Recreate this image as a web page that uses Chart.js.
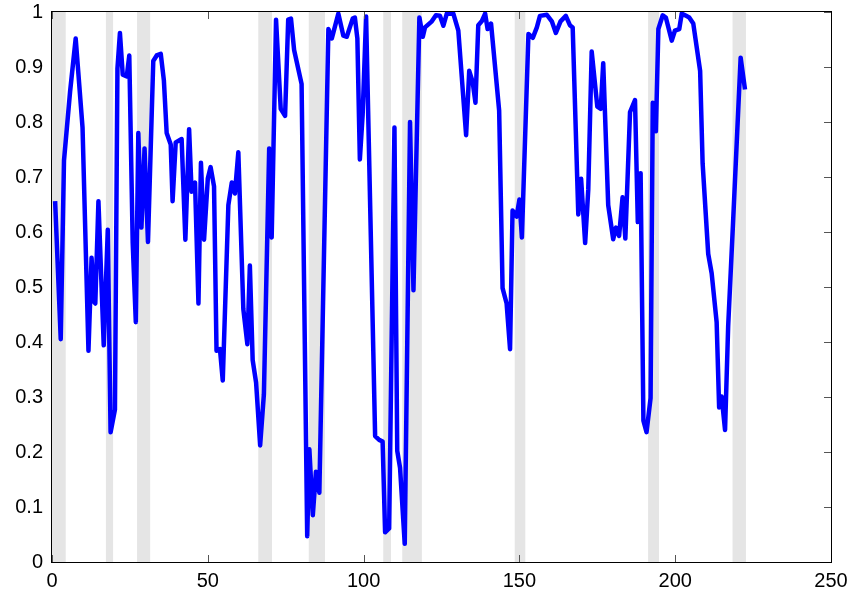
<!DOCTYPE html>
<html><head><meta charset="utf-8">
<script src="https://cdn.jsdelivr.net/npm/chart.js@4"></script>
<style>html,body{margin:0;padding:0;background:#fff}#wrap{width:849px;height:594px}</style>
</head><body><div id="wrap"><canvas id="c" width="849" height="594"></canvas></div>
<script>
const xValues = [1,2.8,3.85,5.8,7.6,9.8,11.7,12.7,13.5,13.9,14.9,16.6,17.9,18.8,20.2,21,21.8,22.7,24,24.8,25.9,26.9,27.7,28.7,29.7,30.8,32.5,33.6,34.9,35.9,36.8,38.1,38.7,39.7,41.6,42.8,44,44.8,45.9,47,47.8,48.8,50,50.9,52,52.8,53.9,54.8,56.6,57.7,58.7,59.8,61.4,62.7,63.5,64.4,65.5,66.8,68,69.7,70.5,71.9,73.4,74.8,75.8,76.7,77.7,80.1,81.9,82.6,83.7,84.7,85.8,88.7,89.8,91.9,93.5,94.6,96.5,97.2,98,98.8,99.7,100.8,103.7,105,106.1,106.9,108.2,109.9,110.8,111.7,113.2,114.9,116,117.9,119,119.7,121.9,123.2,124.5,125.6,126.7,128.8,130.4,132.9,133.9,135,135.9,136.8,137.9,139,139.8,140.9,143.5,144.6,145.9,147,147.8,149.1,150,150.8,152.9,154.3,155.6,156.6,158.8,160.4,161.7,163.2,164.9,166.2,167.1,168.9,169.8,171.1,172.1,173.2,175,176.1,176.9,178.5,180.1,181,182,183.1,184,185.5,187.1,188,188.9,189.8,190.8,192.1,192.8,193.8,194.6,196,197,198.9,199.9,201.3,202.1,203.5,204.5,205.8,208,208.8,210.6,211.7,213.3,214.1,214.9,216,217,218.6,221,222.4];
const yValues = [0.656,0.405,0.73,0.855,0.952,0.79,0.384,0.553,0.473,0.47,0.656,0.394,0.604,0.236,0.277,0.897,0.962,0.886,0.883,0.921,0.58,0.436,0.78,0.608,0.752,0.582,0.911,0.921,0.924,0.876,0.78,0.759,0.656,0.763,0.769,0.586,0.787,0.673,0.69,0.47,0.726,0.586,0.697,0.718,0.683,0.384,0.387,0.33,0.649,0.69,0.67,0.745,0.46,0.396,0.539,0.367,0.326,0.212,0.305,0.752,0.59,0.986,0.824,0.811,0.986,0.988,0.931,0.869,0.047,0.205,0.085,0.164,0.126,0.969,0.952,0.997,0.957,0.955,0.988,0.99,0.952,0.732,0.814,0.992,0.229,0.222,0.219,0.054,0.061,0.79,0.202,0.171,0.033,0.8,0.494,0.99,0.955,0.972,0.983,0.994,0.993,0.975,0.997,0.997,0.966,0.776,0.893,0.873,0.835,0.976,0.983,0.997,0.969,0.979,0.821,0.498,0.47,0.387,0.639,0.628,0.659,0.59,0.96,0.953,0.972,0.993,0.995,0.983,0.962,0.983,0.993,0.976,0.972,0.632,0.697,0.58,0.677,0.928,0.828,0.824,0.907,0.649,0.587,0.608,0.593,0.663,0.588,0.818,0.84,0.618,0.707,0.257,0.236,0.298,0.835,0.783,0.969,0.994,0.99,0.948,0.966,0.969,0.997,0.993,0.99,0.979,0.893,0.725,0.56,0.525,0.436,0.281,0.301,0.24,0.429,0.621,0.917,0.859];
const bandStart = [0,17.3,27.3,66.2,82.4,106.3,112.4,148.5,191.3,218.4];
const bandEnd   = [4.4,19.6,31.5,70.6,87.6,108.8,118.7,151.9,194.8,222.7];
const xTickValues = [0,50,100,150,200,250];
const yTickValues = [0,0.1,0.2,0.3,0.4,0.5,0.6,0.7,0.8,0.9,1];
const yTickLabels = ['0','0.1','0.2','0.3','0.4','0.5','0.6','0.7','0.8','0.9','1'];

const FONT = {family:"'Liberation Sans', Arial, sans-serif", size:20};

function zeroPad(s){ s.paddingTop=0; s.paddingBottom=0; s.paddingLeft=0; s.paddingRight=0; }

const decor = {
  id:'decor',
  beforeDatasetsDraw(chart){
    const {ctx, chartArea:a, scales:{x}} = chart;
    ctx.save();
    ctx.fillStyle = '#e5e5e5';
    for (let i=0;i<bandStart.length;i++){
      const x0 = x.getPixelForValue(bandStart[i]), x1 = x.getPixelForValue(bandEnd[i]);
      ctx.fillRect(x0, a.top, x1-x0, a.bottom-a.top);
    }
    ctx.restore();
  },
  afterDatasetsDraw(chart){
    const {ctx, chartArea:a, scales:{x,y}} = chart;
    const L=7;
    ctx.save();
    ctx.strokeStyle='#555'; ctx.lineWidth=1;
    ctx.beginPath();
    xTickValues.forEach(v=>{
      const px=Math.round(x.getPixelForValue(v))+0.5;
      ctx.moveTo(px,a.bottom); ctx.lineTo(px,a.bottom-L);
      ctx.moveTo(px,a.top); ctx.lineTo(px,a.top+L);
    });
    yTickValues.forEach(v=>{
      const py=Math.round(y.getPixelForValue(v))+0.5;
      ctx.moveTo(a.right,py); ctx.lineTo(a.right-L,py);
    });
    ctx.stroke();
    ctx.strokeStyle='#000';
    ctx.strokeRect(a.left-0.5, a.top-0.5, a.right-a.left+1, a.bottom-a.top+1);
    ctx.restore();
  }
};

new Chart(document.getElementById('c'), {
  type:'line',
  data:{datasets:[{
    data:xValues.map((v,i)=>({x:v,y:yValues[i]})),
    borderColor:'#0000ff', borderWidth:4.5, pointRadius:0, tension:0, fill:false,
    borderJoinStyle:'round', borderCapStyle:'butt'
  }]},
  options:{
    responsive:false, devicePixelRatio:1, animation:false,
    layout:{padding:{top:12,right:18,left:0,bottom:0}},
    plugins:{legend:{display:false}, tooltip:{enabled:false}},
    scales:{
      x:{type:'linear', min:0, max:250,
        ticks:{stepSize:50, color:'#000', font:FONT, padding:7, maxRotation:0},
        grid:{display:false, drawTicks:false}, border:{display:false},
        afterFit(s){s.height=32; zeroPad(s);}},
      y:{type:'linear', min:0, max:1,
        ticks:{stepSize:0.1, color:'#000', font:FONT, padding:9,
          callback:(v,i)=>yTickLabels[i]},
        grid:{display:false, drawTicks:false}, border:{display:false},
        afterFit(s){s.width=52; zeroPad(s);}}
    }
  },
  plugins:[decor]
});
</script>
</body></html>
